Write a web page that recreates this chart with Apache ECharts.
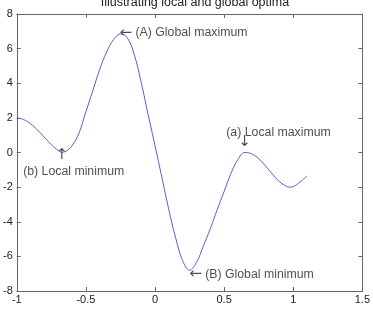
<!DOCTYPE html>
<html>
<head>
<meta charset="utf-8">
<script src="https://cdn.jsdelivr.net/npm/echarts@6/dist/echarts.min.js"></script>
<style>
  html, body { margin: 0; padding: 0; background: #fff; }
  #chart { width: 373px; height: 314px; }
</style>
</head>
<body>
<div id="chart"></div>
<script>
// curve
const xs = [-1.00, -0.95, -0.90, -0.85, -0.80, -0.75, -0.70, -0.675, -0.65, -0.60, -0.55, -0.50, -0.45, -0.40, -0.35, -0.30, -0.25, -0.20, -0.15, -0.10, -0.05, 0.00, 0.05, 0.10, 0.15, 0.20, 0.25, 0.30, 0.35, 0.40, 0.45, 0.50, 0.55, 0.60, 0.65, 0.70, 0.75, 0.80, 0.85, 0.90, 0.95, 0.975, 1.00, 1.05, 1.10];
const ys = [2.00, 1.90, 1.66, 1.30, 0.88, 0.45, 0.12, 0.02, 0.05, 0.40, 1.12, 2.35, 3.57, 4.80, 5.80, 6.52, 6.85, 6.62, 5.65, 4.05, 2.20, 0.40, -1.45, -3.30, -4.95, -6.25, -6.80, -6.35, -5.40, -4.40, -3.30, -2.25, -1.20, -0.40, 0.00, -0.08, -0.35, -0.78, -1.25, -1.68, -1.95, -2.00, -1.97, -1.70, -1.35];

// axis ticks
const xTicks = [-1, -0.5, 0, 0.5, 1, 1.5];
const yTicks = [-8, -6, -4, -2, 0, 2, 4, 6, 8];

// annotations
const annoX = [-0.25, -0.675, -0.675, 0.655, 0.655, 0.24];
const annoY = [6.85, 0.02, 0.02, 0.00, 0.00, -6.80];
const annoText = ['{a|←} (A) Global maximum', '{a|↑}', '(b) Local minimum', '(a) Local maximum', '{a|↓}', '{a|←} (B) Global minimum'];

const titleText = 'Illustrating local and global optima';

const chart = echarts.init(document.getElementById('chart'));
const font = 'Liberation Sans, Arial, DejaVu Sans, sans-serif';
const axisColor = '#666';

// where each annotation sits relative to its point
const labelStyles = [
  { position: 'right', offset: [-1, -1] },
  { position: 'inside', offset: [0, 3] },
  { position: 'inside', offset: [12, 19] },
  { position: 'inside', offset: [33, -20] },
  { position: 'inside', offset: [-1, -10] },
  { position: 'right', offset: [1, 4] },
];

const annoData = annoText.map((t, i) => ({
  value: [annoX[i], annoY[i]],
  label: Object.assign({ show: true, formatter: t, distance: 0 }, labelStyles[i]),
}));

const baseX = {
  type: 'value', min: xTicks[0], max: xTicks[xTicks.length - 1], interval: 0.5,
  axisLine: { show: true, onZero: false, lineStyle: { color: axisColor, width: 1 } },
  axisTick: { show: true, inside: true, length: 4, lineStyle: { color: axisColor } },
  splitLine: { show: false },
};
const baseY = {
  type: 'value', min: yTicks[0], max: yTicks[yTicks.length - 1], interval: 2,
  axisLine: { show: true, onZero: false, lineStyle: { color: axisColor, width: 1 } },
  axisTick: { show: true, inside: true, length: 4, lineStyle: { color: axisColor } },
  splitLine: { show: false },
};

const option = {
  animation: false,
  textStyle: { fontFamily: font },
  title: {
    text: titleText, left: 190, textAlign: 'center', top: -9,
    textStyle: { fontSize: 12.5, fontWeight: 'normal', color: '#222', fontFamily: font },
  },
  grid: { left: 16, right: 6, top: 14, bottom: 23 },
  xAxis: [
    Object.assign({}, baseX, {
      position: 'bottom',
      axisLabel: { color: '#222', fontSize: 11, margin: 3, fontFamily: font,
        formatter: v => String(v) },
    }),
    Object.assign({}, baseX, { position: 'top', axisLabel: { show: false } }),
  ],
  yAxis: [
    Object.assign({}, baseY, {
      position: 'left',
      axisLabel: { color: '#222', fontSize: 11, margin: 4, fontFamily: font },
    }),
    Object.assign({}, baseY, { position: 'right', axisLabel: { show: false } }),
  ],
  series: [
    {
      type: 'line',
      data: xs.map((x, i) => [x, ys[i]]),
      smooth: 0.4,
      showSymbol: false,
      lineStyle: { color: '#5c5cc8', width: 1 },
    },
    {
      type: 'scatter',
      data: annoData,
      symbolSize: 0,
      label: {
        color: '#222', fontSize: 12.3, fontFamily: font,
        rich: { a: { fontFamily: 'DejaVu Sans', fontSize: 15, color: '#222' } },
      },
      silent: true,
    },
  ],
};
chart.setOption(option);
</script>
</body>
</html>
